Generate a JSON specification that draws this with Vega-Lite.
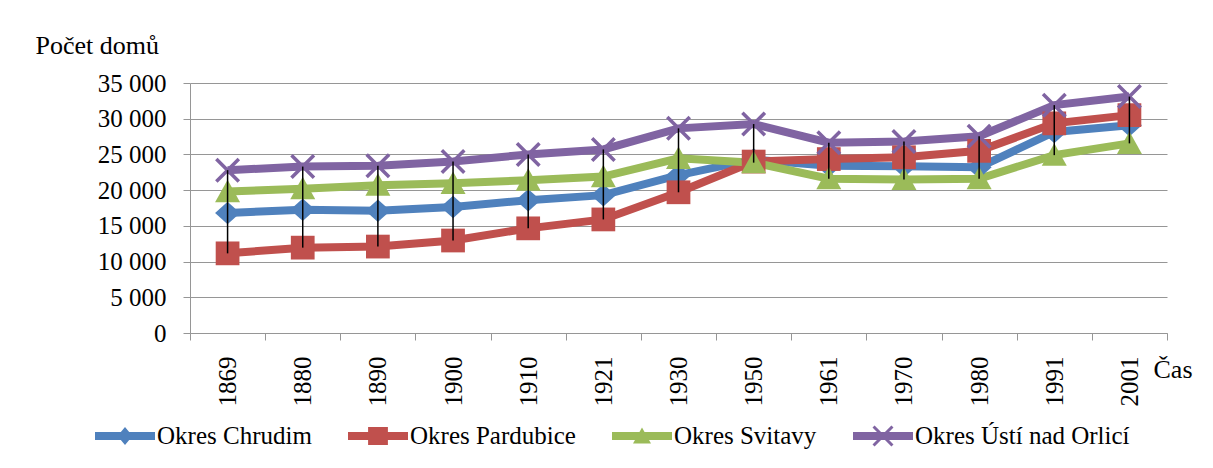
{
  "$schema": "https://vega.github.io/schema/vega-lite/v6.json",
  "autosize": "none",
  "width": 977,
  "height": 250,
  "padding": {"left": 190, "top": 83, "right": 46, "bottom": 135},
  "background": "white",
  "config": {
    "view": {"stroke": null},
    "font": "Liberation Serif, Times New Roman, serif",
    "axis": {"labelFont": "Liberation Serif, Times New Roman, serif", "titleFont": "Liberation Serif, Times New Roman, serif", "labelColor": "black", "titleColor": "black", "titleFontWeight": "normal", "labelFontSize": 25, "titleFontSize": 26},
    "legend": {"labelFont": "Liberation Serif, Times New Roman, serif", "labelFontSize": 25, "labelColor": "black"}
  },
  "data": {
    "values": [
      {"year": "1869", "series": "Okres Chrudim", "value": 16800},
      {"year": "1880", "series": "Okres Chrudim", "value": 17250},
      {"year": "1890", "series": "Okres Chrudim", "value": 17100},
      {"year": "1900", "series": "Okres Chrudim", "value": 17650},
      {"year": "1910", "series": "Okres Chrudim", "value": 18600},
      {"year": "1921", "series": "Okres Chrudim", "value": 19300},
      {"year": "1930", "series": "Okres Chrudim", "value": 22100},
      {"year": "1950", "series": "Okres Chrudim", "value": 24300},
      {"year": "1961", "series": "Okres Chrudim", "value": 23400},
      {"year": "1970", "series": "Okres Chrudim", "value": 23350},
      {"year": "1980", "series": "Okres Chrudim", "value": 23200},
      {"year": "1991", "series": "Okres Chrudim", "value": 28150},
      {"year": "2001", "series": "Okres Chrudim", "value": 29100},
      {"year": "1869", "series": "Okres Pardubice", "value": 11150},
      {"year": "1880", "series": "Okres Pardubice", "value": 11950},
      {"year": "1890", "series": "Okres Pardubice", "value": 12100},
      {"year": "1900", "series": "Okres Pardubice", "value": 12950},
      {"year": "1910", "series": "Okres Pardubice", "value": 14650},
      {"year": "1921", "series": "Okres Pardubice", "value": 15900},
      {"year": "1930", "series": "Okres Pardubice", "value": 19700},
      {"year": "1950", "series": "Okres Pardubice", "value": 24000},
      {"year": "1961", "series": "Okres Pardubice", "value": 24350},
      {"year": "1970", "series": "Okres Pardubice", "value": 24600},
      {"year": "1980", "series": "Okres Pardubice", "value": 25500},
      {"year": "1991", "series": "Okres Pardubice", "value": 29350},
      {"year": "2001", "series": "Okres Pardubice", "value": 30500},
      {"year": "1869", "series": "Okres Svitavy", "value": 19800},
      {"year": "1880", "series": "Okres Svitavy", "value": 20200},
      {"year": "1890", "series": "Okres Svitavy", "value": 20700},
      {"year": "1900", "series": "Okres Svitavy", "value": 20950},
      {"year": "1910", "series": "Okres Svitavy", "value": 21400},
      {"year": "1921", "series": "Okres Svitavy", "value": 21900},
      {"year": "1930", "series": "Okres Svitavy", "value": 24450},
      {"year": "1950", "series": "Okres Svitavy", "value": 23850},
      {"year": "1961", "series": "Okres Svitavy", "value": 21600},
      {"year": "1970", "series": "Okres Svitavy", "value": 21500},
      {"year": "1980", "series": "Okres Svitavy", "value": 21600},
      {"year": "1991", "series": "Okres Svitavy", "value": 24900},
      {"year": "2001", "series": "Okres Svitavy", "value": 26550},
      {"year": "1869", "series": "Okres Ústí nad Orlicí", "value": 22800},
      {"year": "1880", "series": "Okres Ústí nad Orlicí", "value": 23300},
      {"year": "1890", "series": "Okres Ústí nad Orlicí", "value": 23400},
      {"year": "1900", "series": "Okres Ústí nad Orlicí", "value": 24000},
      {"year": "1910", "series": "Okres Ústí nad Orlicí", "value": 25000},
      {"year": "1921", "series": "Okres Ústí nad Orlicí", "value": 25700},
      {"year": "1930", "series": "Okres Ústí nad Orlicí", "value": 28650},
      {"year": "1950", "series": "Okres Ústí nad Orlicí", "value": 29250},
      {"year": "1961", "series": "Okres Ústí nad Orlicí", "value": 26650},
      {"year": "1970", "series": "Okres Ústí nad Orlicí", "value": 26800},
      {"year": "1980", "series": "Okres Ústí nad Orlicí", "value": 27550},
      {"year": "1991", "series": "Okres Ústí nad Orlicí", "value": 31900},
      {"year": "2001", "series": "Okres Ústí nad Orlicí", "value": 33100}
    ]
  },
  "encoding": {
    "x": {
      "field": "year", "type": "ordinal", "bandPosition": 0.5,
      "scale": {"type": "band", "paddingInner": 0, "paddingOuter": 0},
      "axis": {
        "title": "Čas", "titleAngle": 0, "titleAlign": "left", "titleBaseline": "alphabetic", "titleX": 963, "titleY": 44,
        "labelAngle": -90, "labelAlign": "right", "labelBaseline": "middle", "labelPadding": 16,
        "tickBand": "extent", "tickSize": 7, "tickColor": "#969696", "domainColor": "#969696", "grid": false
      }
    },
    "y": {
      "field": "value", "type": "quantitative",
      "scale": {"domain": [0, 35000], "nice": false, "zero": true},
      "axis": {
        "title": "Počet domů", "titleAngle": 0, "titleAlign": "left", "titleBaseline": "alphabetic", "titleX": -155, "titleY": -30,
        "values": [0, 5000, 10000, 15000, 20000, 25000, 30000, 35000],
        "labelExpr": "replace(format(datum.value, ','), ',', ' ')",
        "labelPadding": 17, "tickSize": 7, "tickColor": "#969696", "domainColor": "#969696",
        "grid": true, "gridColor": "#969696", "gridWidth": 1
      }
    }
  },
  "layer": [
    {
      "mark": {"type": "line", "strokeWidth": 8},
      "encoding": {
        "color": {
          "field": "series", "type": "nominal",
          "scale": {"domain": ["Okres Chrudim", "Okres Pardubice", "Okres Svitavy", "Okres Ústí nad Orlicí"], "range": ["#4F81BD", "#C0504D", "#9BBB59", "#8064A2"]},
          "legend": {
            "title": null, "orient": "none", "direction": "horizontal", "columns": 4,
            "legendX": -95, "legendY": 323, "padding": 0,
            "columnPadding": 36, "labelOffset": 2, "labelLimit": 0, "symbolSize": 3600,
            "labelFontSize": 25,
            "encode": {
              "symbols": {
                "update": {
                  "shape": {"signal": "datum.value === 'Okres Chrudim' ? 'M-1,-0.13H1V0.13H-1Z M0,-0.3L0.25,0L0,0.3L-0.25,0Z' : datum.value === 'Okres Pardubice' ? 'M-1,-0.13H1V0.13H-1Z M-0.33,-0.3H0.33V0.3H-0.33Z' : datum.value === 'Okres Svitavy' ? 'M-1,-0.13H1V0.13H-1Z M0,-0.28L0.3,0.25L-0.3,0.25Z' : 'M-1,-0.13H1V0.13H-1Z M-0.35,-0.28L-0.28,-0.35L0,-0.07L0.28,-0.35L0.35,-0.28L0.07,0L0.35,0.28L0.28,0.35L0,0.07L-0.28,0.35L-0.35,0.28L-0.07,0Z'"},
                  "fill": {"signal": "datum.value === 'Okres Chrudim' ? '#4F81BD' : datum.value === 'Okres Pardubice' ? '#C0504D' : datum.value === 'Okres Svitavy' ? '#9BBB59' : '#8064A2'"},
                  "stroke": {"value": "transparent"},
                  "strokeWidth": {"value": 0},
                  "opacity": {"value": 1},
                  "size": {"value": 3600}
                }
              }
            }
          }
        }
      }
    },
    {
      "transform": [{"filter": "datum.series === 'Okres Chrudim'"}],
      "mark": {"type": "point", "filled": true, "opacity": 1, "size": 625, "color": "#4F81BD", "shape": "M0,-0.9L1,0L0,0.9L-1,0Z"}
    },
    {
      "transform": [{"filter": "datum.series === 'Okres Pardubice'"}],
      "mark": {"type": "point", "filled": true, "opacity": 1, "size": 625, "color": "#C0504D", "shape": "M-0.95,-0.95H0.95V0.95H-0.95Z"}
    },
    {
      "transform": [{"filter": "datum.series === 'Okres Svitavy'"}],
      "mark": {"type": "point", "filled": true, "opacity": 1, "size": 625, "color": "#9BBB59", "shape": "M0,-0.95L1,0.85L-1,0.85Z"}
    },
    {
      "transform": [{"filter": "datum.series === 'Okres Ústí nad Orlicí'"}],
      "mark": {"type": "point", "filled": true, "opacity": 1, "size": 625, "color": "#8064A2", "shape": "M-1,-0.8L-0.8,-1L0,-0.2L0.8,-1L1,-0.8L0.2,0L1,0.8L0.8,1L0,0.2L-0.8,1L-1,0.8L-0.2,0Z"}
    },
    {
      "mark": {"type": "rule", "color": "black", "strokeWidth": 1.5},
      "encoding": {
        "y": {"aggregate": "min", "field": "value", "type": "quantitative", "title": "Počet domů"},
        "y2": {"aggregate": "max", "field": "value"}
      }
    }
  ]
}
